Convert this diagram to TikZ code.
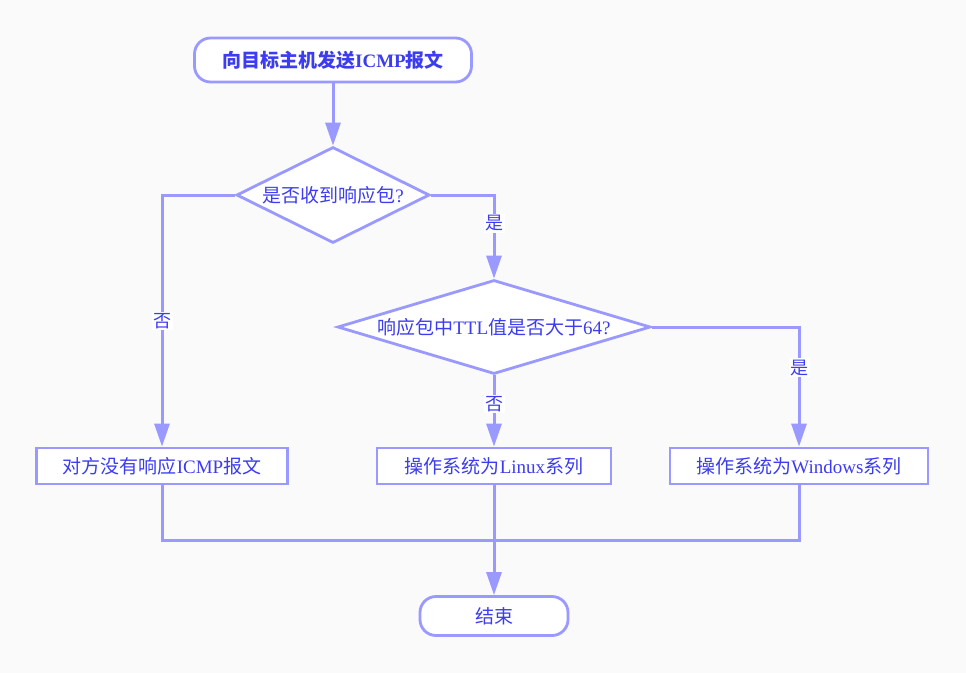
\documentclass[tikz,border=0pt]{standalone}
\usepackage{fontspec}
\setmainfont{Liberation Serif}
\newfontfamily\cjk{Noto Sans CJK SC}
\usetikzlibrary{shapes.geometric,arrows.meta}
\definecolor{flowline}{HTML}{9999FF}
\definecolor{flowtext}{HTML}{3C3CF0}
\definecolor{flowbg}{HTML}{FAFAFA}
\tikzset{
  box/.style={draw=flowline, fill=white, line width=2.8pt, text=flowtext,
    minimum height=36pt, inner sep=0pt, font=\fontsize{19}{23}\selectfont},
  term/.style={box, rounded corners=16pt},
  test/.style={box, diamond, aspect=4},
  link/.style={draw=flowline, line width=3pt},
  flow/.style={link, -{Triangle[length=23pt,width=15pt]}},
  tag/.style={fill=white, text=flowtext, inner sep=1.5pt, font=\fontsize{18}{22}\selectfont\cjk},
}
\begin{document}
\begin{tikzpicture}[x=1pt, y=-1pt]
\fill[flowbg] (0,0) rectangle (966,673);
\useasboundingbox (0,0) rectangle (966,673);
\node[term, minimum width=277pt, minimum height=44pt, font=\fontsize{19}{23}\selectfont\bfseries] (send) at (333,60) {{\cjk 向目标主机发送}ICMP{\cjk 报文}};
\node[test, aspect=2, minimum width=193pt, minimum height=96pt] (reply) at (333,195) {{\cjk 是否收到响应包}?};
\node[test, minimum width=313pt, minimum height=94pt] (ttl) at (494,327) {{\cjk 响应包中}TTL{\cjk 值是否大于}64?};
\node[box, minimum width=251pt] (none) at (162,466) {{\cjk 对方没有响应}ICMP{\cjk 报文}};
\node[box, minimum width=234pt] (linux) at (494,466) {{\cjk 操作系统为}Linux{\cjk 系列}};
\node[box, minimum width=258pt] (win) at (799,466) {{\cjk 操作系统为}Windows{\cjk 系列}};
\node[term, minimum width=148pt, minimum height=39pt] (stop) at (494,616) {\cjk 结束};
\coordinate (merge) at (799,540);
\draw[flow] (send) -- (reply);
\draw[flow] (reply.west) -| node[tag, pos=0.75] {否} (none.north);
\draw[flow] (reply.east) -| node[tag, pos=0.67] {是} (ttl.north);
\draw[flow] (ttl) -- node[tag, pos=0.4] {否} (linux);
\draw[flow] (ttl.east) -| node[tag, pos=0.67] {是} (win.north);
\draw[link] (none.south) |- (merge) -- (win.south);
\draw[flow] (linux) -- (stop);
\end{tikzpicture}
\end{document}
